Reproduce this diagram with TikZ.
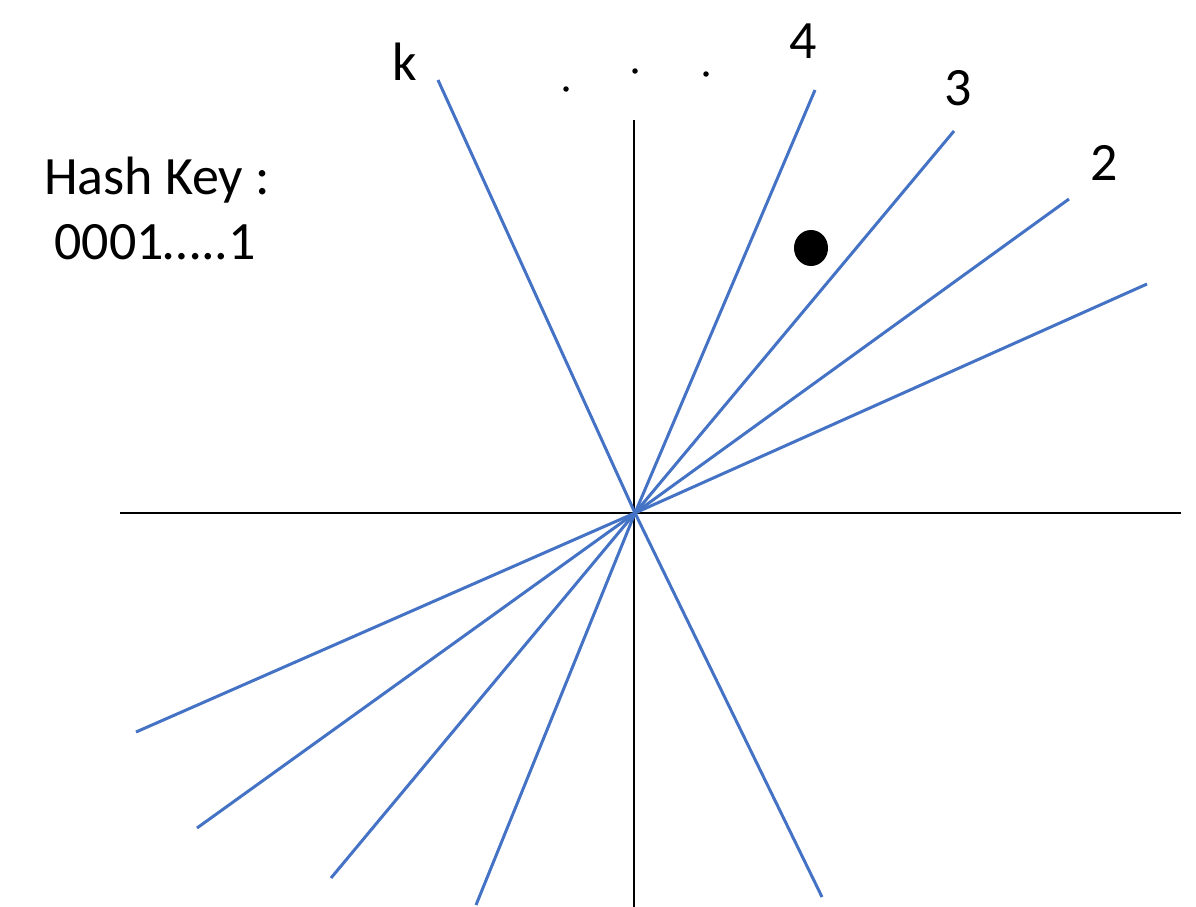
\documentclass[tikz,border=0pt]{standalone}
\usepackage{fontspec}
\setmainfont{Carlito}
\usetikzlibrary{shapes.geometric}
\definecolor{rayblue}{RGB}{68,114,196}
\tikzset{
  ray/.style={draw=rayblue,line width=3pt},
  axis/.style={draw=black,line width=1.8pt},
  lbl/.style={font=\fontsize{54}{58}\selectfont,inner sep=0pt,anchor=center},
  dotmark/.style={fill=black,inner sep=0pt,minimum size=5.5pt,circle}
}
\begin{document}
\begin{tikzpicture}[x=1pt,y=-1pt]
\useasboundingbox (0,0) rectangle (1196,907);
\clip (0,0) rectangle (1196,907);
% axes
\coordinate (O) at (635,513);
\coordinate (xl) at (120,513);
\coordinate (xr) at (1181,513);
\coordinate (yt) at (634,120);
\coordinate (yb) at (634,907);
\draw[axis] (xl) -- (xr);
\draw[axis] (yt) -- (yb);
% ray end points
\coordinate (k1) at (438,80);   \coordinate (k2) at (822,897);
\coordinate (a1) at (815,90);   \coordinate (a2) at (476,905);
\coordinate (b1) at (954,131);  \coordinate (b2) at (331,878);
\coordinate (c1) at (1069,199); \coordinate (c2) at (197,828);
\coordinate (d1) at (1147,284); \coordinate (d2) at (136,732);
\draw[ray] (k1) -- (O) -- (k2);
\draw[ray] (a1) -- (O) -- (a2);
\draw[ray] (b1) -- (O) -- (b2);
\draw[ray] (c1) -- (O) -- (c2);
\draw[ray] (d1) -- (O) -- (d2);
% labels
\node[lbl] (lk) at (405,62) {k};
\node[lbl] (l4) at (803,41) {4};
\node[lbl] (l3) at (958,88) {3};
\node[lbl] (l2) at (1104,163) {2};
\node[lbl] (l1) at (1208,269) {1};
\node[dotmark] (p1) at (566,89) {};
\node[dotmark] (p2) at (635,71) {};
\node[dotmark] (p3) at (706,74) {};
% point
\node[fill=black,ellipse,inner sep=0pt,minimum width=34pt,minimum height=36pt] (pt) at (811,248) {};
% hash key
\node[lbl] (hk) at (157,180) {Hash Key :};
\node[lbl] (hv) at (155,242) {0001…..1};
\end{tikzpicture}
\end{document}
